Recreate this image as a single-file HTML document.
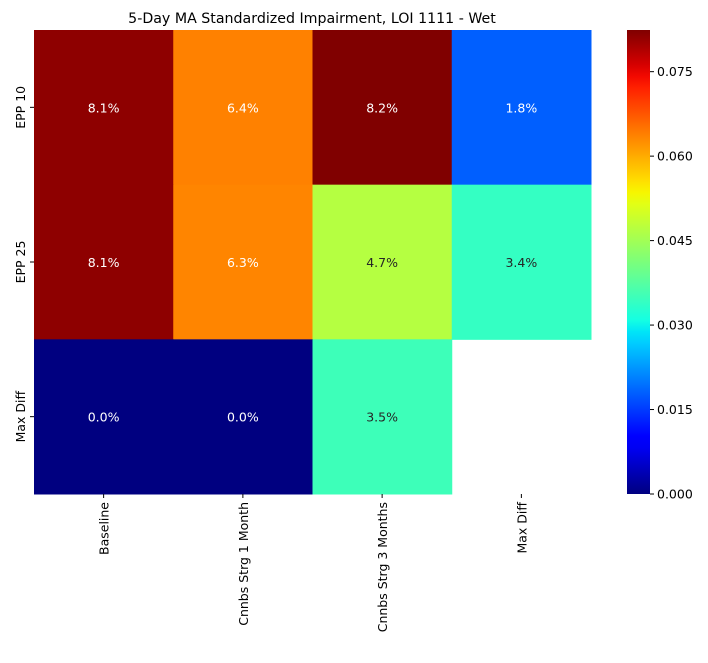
<!DOCTYPE html>
<html><head><meta charset="utf-8"><style>body{margin:0;background:#fff}svg{font-family:"DejaVu Sans","Liberation Sans",sans-serif}</style></head>
<body>
<svg id="c" width="708" height="658" xmlns="http://www.w3.org/2000/svg"></svg>
<script>
const rows = ["EPP 10","EPP 25","Max Diff"];
const cols = ["Baseline","Cnnbs Strg 1 Month","Cnnbs Strg 3 Months","Max Diff"];
const row0 = [0.0814,0.0637,0.0824,0.018];
const row1 = [0.0814,0.0634,0.047,0.034];
const row2 = [0.0,0.0,0.035,null];
const cbTicks = [0,0.015,0.03,0.045,0.06,0.075];
const cbLabels = ["0.000","0.015","0.030","0.045","0.060","0.075"];
const vmin=0, vmax=0.0824;
const values=[row0,row1,row2];
const NS="http://www.w3.org/2000/svg", svg=document.getElementById('c');
function mk(t,a,p){const e=document.createElementNS(NS,t);for(const k in a)e.setAttribute(k,a[k]);(p||svg).appendChild(e);return e;}
function interp(pts,x){for(let i=1;i<pts.length;i++){if(x<=pts[i][0]){const[a,b]=[pts[i-1],pts[i]];return a[1]+(b[1]-a[1])*(x-a[0])/(b[0]-a[0]);}}return pts[pts.length-1][1];}
const R=[[0,0],[0.35,0],[0.66,1],[0.89,1],[1,0.5]],G=[[0,0],[0.125,0],[0.375,1],[0.64,1],[0.91,0],[1,0]],B=[[0,0.5],[0.11,1],[0.34,1],[0.65,0],[1,0]];
function jet(t){t=Math.max(0,Math.min(1,t));return[interp(R,t),interp(G,t),interp(B,t)];}
function lin(c){return c<=0.03928?c/12.92:Math.pow((c+0.055)/1.055,2.4);}
const X0=34,X1=591,Y0=30,Y1=494;
const cw=(X1-X0)/cols.length,ch=(Y1-Y0)/rows.length;
const xs=i=>X0+i*cw, ys=j=>Y0+j*ch;
const cbX=627,cbW=23;
const cy=v=>Y1-(v-vmin)/(vmax-vmin)*(Y1-Y0);
const t=mk('text',{x:312,y:23,'text-anchor':'middle','font-size':14.2,fill:'#000'});t.textContent="5-Day MA Standardized Impairment, LOI 1111 - Wet";

values.forEach((row,j)=>row.forEach((v,i)=>{
 if(v===null)return;
 const c=jet((v-vmin)/(vmax-vmin));
 const r=mk('rect',{x:xs(i),y:ys(j),width:cw+0.5,height:ch+0.5,fill:`rgb(${c.map(q=>Math.round(q*255)).join(',')})`});
 
 
 const lum=0.2126*lin(c[0])+0.7152*lin(c[1])+0.0722*lin(c[2]);
 const tx=mk('text',{x:xs(i)+cw/2,y:ys(j)+ch/2+5,'text-anchor':'middle','font-size':12.5,fill:lum>0.408?'#262626':'#fff'});
 tx.textContent=(v*100).toFixed(1)+'%';
 
 
}));
rows.forEach((n,j)=>{
 const y=ys(j)+ch/2;
 mk('line',{x1:X0-4,x2:X0,y1:y,y2:y,stroke:'#000','stroke-width':1});
 const tx=mk('text',{x:0,y:0,transform:`translate(${X0-9},${y}) rotate(-90)`,'text-anchor':'middle','font-size':12.5,fill:'#000'});
 tx.textContent=n;
 
 
});
cols.forEach((n,i)=>{
 const x=xs(i)+cw/2;
 mk('line',{x1:x,x2:x,y1:Y1,y2:Y1+4,stroke:'#000','stroke-width':1});
 const tx=mk('text',{x:0,y:0,transform:`translate(${x+5},${Y1+8}) rotate(-90)`,'text-anchor':'end','font-size':12.5,fill:'#000'});
 tx.textContent=n;
 
 
});
const defs=mk('defs',{});const lg=mk('linearGradient',{id:'jg',x1:0,y1:1,x2:0,y2:0},defs);
for(let k=0;k<=40;k++){const c=jet(k/40);mk('stop',{offset:k/40,'stop-color':`rgb(${c.map(q=>Math.round(q*255)).join(',')})`},lg);}
const cb=mk('rect',{x:cbX,y:Y0,width:cbW,height:Y1-Y0,fill:'url(#jg)'});


cbTicks.forEach((v,k)=>{
 const y=cy(v);
 mk('line',{x1:cbX+cbW,x2:cbX+cbW+4,y1:y,y2:y,stroke:'#000','stroke-width':1});
 const tx=mk('text',{x:cbX+cbW+7,y:y+4.5,'font-size':12.5,fill:'#000'});
 tx.textContent=cbLabels[k];
 
 
});
</script>
</body></html>
